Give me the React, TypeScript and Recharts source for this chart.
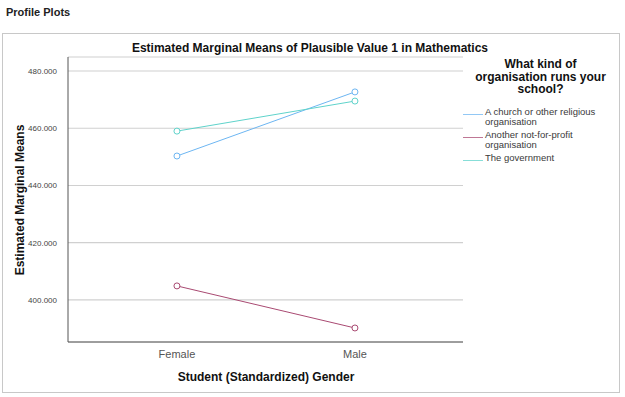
import React from "react";
import { LineChart, Line, XAxis, YAxis, CartesianGrid } from "recharts";

const genders = ["Female", "Male"];
const church = [450.3, 472.7];
const notForProfit = [404.9, 390.2];
const government = [459.0, 469.5];
const yTicks = [400, 420, 440, 460, 480];

const SERIES = [
  { key: "church", name: "A church or other religious organisation", color: "#6db6f2", values: church },
  { key: "nfp", name: "Another not-for-profit organisation", color: "#a94a72", values: notForProfit },
  { key: "gov", name: "The government", color: "#5fd3cb", values: government },
];

const data = genders.map((g, i) => {
  const row: Record<string, number | string> = { x: i, name: g };
  SERIES.forEach((s) => (row[s.key] = s.values[i]));
  return row;
});

const FONT = "'Liberation Sans', Arial, sans-serif";

/* ── Legend (drawn beside the plot) ── */

function LegendBox() {
  return (
    <div style={{ position: "absolute", left: 458, top: 58, width: 165, fontFamily: FONT }}>
      <div style={{ fontWeight: "bold", fontSize: 12, textAlign: "center", lineHeight: "12.5px", color: "#111" }}>
        What kind of
        <br />
        organisation runs your
        <br />
        school?
      </div>
      <div style={{ marginTop: 11 }}>
        {SERIES.map((s) => (
          <div key={s.key} style={{ display: "flex", alignItems: "flex-start", marginBottom: 2 }}>
            <div style={{ width: 20, borderTop: `1px solid ${s.color}`, marginTop: 7, marginLeft: 5, marginRight: 2, opacity: 0.75 }} />
            <div style={{ fontSize: 9.5, color: "#3a3a3a", lineHeight: "10.5px", width: 120 }}>{s.name}</div>
          </div>
        ))}
      </div>
    </div>
  );
}

function OpenDot(props: any) {
  const { cx, cy, stroke } = props;
  if (cx == null || cy == null) return null;
  return <circle cx={cx} cy={cy} r={3} fill="#fff" stroke={stroke} strokeWidth={1} />;
}

export default function App() {
  return (
    <div style={{ position: "absolute", left: 0, top: 0, width: 625, height: 397, background: "#fff", fontFamily: FONT }}>
      <div style={{ position: "absolute", left: 6, top: 6, fontSize: 11, fontWeight: "bold", color: "#222" }}>Profile Plots</div>
      <div
        style={{
          position: "absolute",
          left: 2,
          top: 33,
          width: 616,
          height: 358,
          border: "1px solid #c8c8c8",
        }}
      />
      <div
        style={{
          position: "absolute",
          left: 0,
          width: 620,
          top: 41,
          textAlign: "center",
          fontSize: 12,
          fontWeight: "bold",
          color: "#111",
        }}
      >
        Estimated Marginal Means of Plausible Value 1 in Mathematics
      </div>
      <div
        style={{
          position: "absolute",
          left: 20,
          top: 200,
          transform: "translate(-50%, -50%) rotate(-90deg)",
          whiteSpace: "nowrap",
          fontSize: 12,
          fontWeight: "bold",
          color: "#111",
        }}
      >
        Estimated Marginal Means
      </div>
      <div
        style={{
          position: "absolute",
          left: 266,
          top: 377,
          transform: "translate(-50%, -50%)",
          whiteSpace: "nowrap",
          fontSize: 12,
          fontWeight: "bold",
          color: "#111",
        }}
      >
        Student (Standardized) Gender
      </div>
      <div style={{ position: "absolute", left: 0, top: 0 }}>
        <LineChart width={625} height={397} data={data} margin={{ top: 57, right: 162, bottom: 25, left: 8 }}>
          <CartesianGrid vertical={false} stroke="#d0d0d0" strokeWidth={1.2} />
          <XAxis
            dataKey="x"
            type="number"
            domain={[-0.612, 1.607]}
            ticks={[0, 1]}
            tickFormatter={(v: number) => genders[v]}
            height={30}
            tickLine={false}
            stroke="#555"
            tick={{ fontSize: 11, fill: "#555", fontFamily: FONT }}
            tickMargin={2}
          />
          <YAxis
            type="number"
            domain={[385.3, 484.9]}
            ticks={yTicks}
            tickFormatter={(v: number) => v.toFixed(3)}
            width={60}
            tickLine={false}
            stroke="#555"
            tick={{ fontSize: 8, fill: "#444", fontFamily: FONT }}
            tickMargin={5}
          />
          {SERIES.map((s) => (
            <Line
              key={s.key}
              dataKey={s.key}
              name={s.name}
              stroke={s.color}
              strokeWidth={1}
              dot={<OpenDot />}
              activeDot={false}
              isAnimationActive={false}
            />
          ))}
        </LineChart>
      </div>
      <LegendBox />
    </div>
  );
}
